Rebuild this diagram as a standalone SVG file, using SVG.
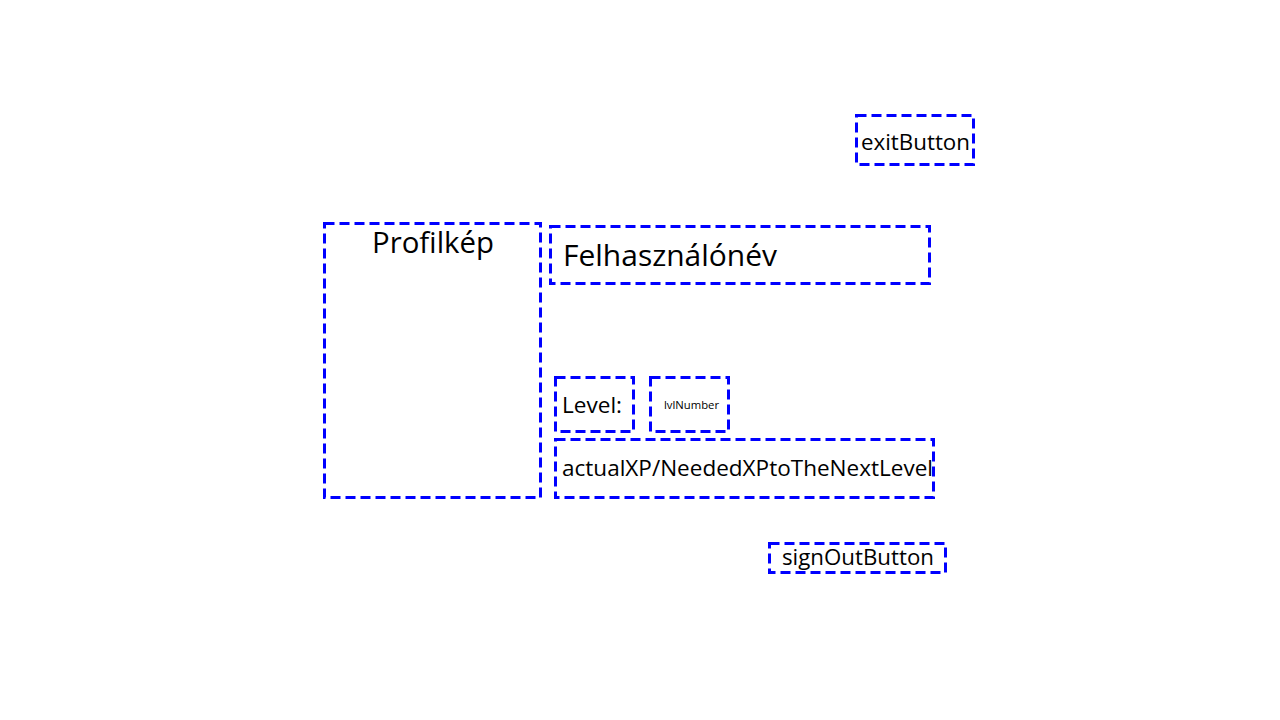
<svg xmlns="http://www.w3.org/2000/svg" width="1280" height="720" viewBox="0 0 1280 720">
<style>
.b{fill:none;stroke:#0000ff;stroke-width:3;stroke-dasharray:10 5}
text{font-family:"Open Sans","Noto Sans",sans-serif;fill:#000}
</style>
<rect width="1280" height="720" fill="#fff"/>
<g id="exitButton"><rect class="b" x="856.5" y="115.5" width="117" height="49"/><text x="861" y="150" font-size="22" textLength="109" lengthAdjust="spacingAndGlyphs">exitButton</text></g>
<g id="profilkep"><rect class="b" x="324.5" y="223.5" width="216" height="274"/><text x="372" y="253" font-size="29" textLength="122" lengthAdjust="spacingAndGlyphs">Profilkép</text></g>
<g id="felhasznalonev"><rect class="b" x="550.5" y="226.5" width="379" height="57"/><text x="563" y="266" font-size="30" textLength="214" lengthAdjust="spacingAndGlyphs">Felhasználónév</text></g>
<g id="level"><rect class="b" x="555.5" y="377.5" width="78" height="54"/><text x="562" y="413" font-size="22" textLength="60" lengthAdjust="spacingAndGlyphs">Level:</text></g>
<g id="lvlNumber"><rect class="b" x="650.5" y="377.5" width="78" height="54"/><text x="664" y="409" font-size="11" textLength="55" lengthAdjust="spacingAndGlyphs">lvlNumber</text></g>
<g id="actualXP"><rect class="b" x="555.5" y="439.5" width="378" height="58"/><text x="562" y="476" font-size="22" textLength="371" lengthAdjust="spacingAndGlyphs">actualXP/NeededXPtoTheNextLevel</text></g>
<g id="signOutButton"><rect class="b" x="769.5" y="543.5" width="176" height="29"/><text x="782" y="565" font-size="22" textLength="152" lengthAdjust="spacingAndGlyphs">signOutButton</text></g>
<g id="connectors"></g>
</svg>
